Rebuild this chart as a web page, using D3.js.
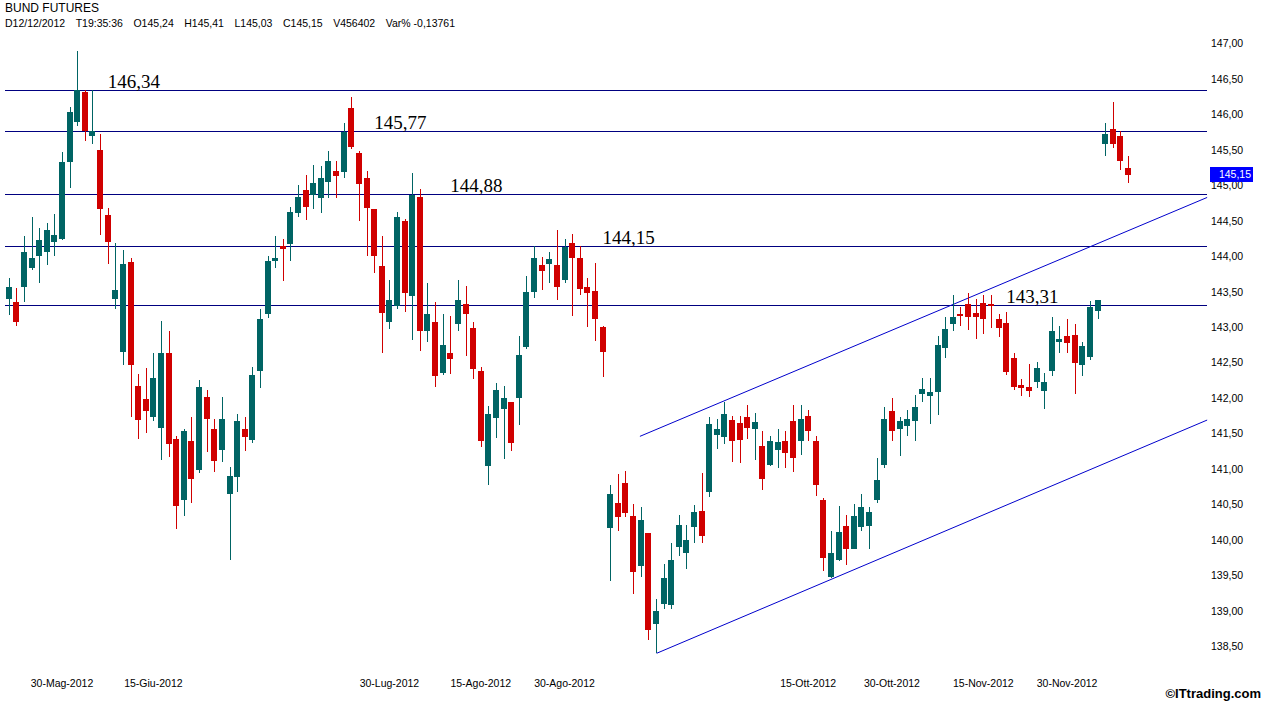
<!doctype html>
<html>
<head>
<meta charset="utf-8">
<style>
    body {
        margin: 0;
        background: #fff;
    }

    svg {
        display: block;
        font-family: 'Liberation Sans', Arial, sans-serif;
    }

    text.title {
        font-size: 12px;
        fill: #000;
    }

    text.info {
        font-size: 10.5px;
        fill: #000;
    }

    .axis text {
        font-size: 10.5px;
        fill: #000;
    }

    line.level {
        stroke: #000080;
        stroke-width: 1;
        shape-rendering: crispEdges;
    }

    line.trend {
        stroke: #0000cc;
        stroke-width: 1;
    }

    text.level-label {
        font-family: 'Liberation Serif', 'Times New Roman', serif;
        font-size: 19px;
        fill: #000;
    }

    .up {
        fill: #006464;
    }

    .down {
        fill: #d00000;
    }

    text.copy {
        font-size: 13px;
        font-weight: bold;
        fill: #000;
    }
</style>
<script src="https://d3js.org/d3.v7.min.js"></script>
</head>
<body>
<svg width="1263" height="701"></svg>
<script>
    // trading sessions, 21 May 2012 -> 12 Dec 2012
    const dates = [
        "2012-05-21","2012-05-22","2012-05-23","2012-05-24","2012-05-25","2012-05-28","2012-05-29","2012-05-30","2012-05-31",
        "2012-06-01","2012-06-04","2012-06-05","2012-06-06","2012-06-07","2012-06-08","2012-06-11","2012-06-12","2012-06-13","2012-06-14","2012-06-15",
        "2012-06-18","2012-06-19","2012-06-20","2012-06-21","2012-06-22","2012-06-25","2012-06-26","2012-06-27","2012-06-28","2012-06-29",
        "2012-07-02","2012-07-03","2012-07-04","2012-07-05","2012-07-06","2012-07-09","2012-07-10","2012-07-11","2012-07-12","2012-07-13",
        "2012-07-16","2012-07-17","2012-07-18","2012-07-19","2012-07-20","2012-07-23","2012-07-24","2012-07-25","2012-07-26","2012-07-27","2012-07-30","2012-07-31",
        "2012-08-01","2012-08-02","2012-08-03","2012-08-06","2012-08-07","2012-08-08","2012-08-09","2012-08-10","2012-08-13","2012-08-14","2012-08-15",
        "2012-08-16","2012-08-17","2012-08-20","2012-08-21","2012-08-22","2012-08-23","2012-08-24","2012-08-27","2012-08-28","2012-08-29","2012-08-30","2012-08-31",
        "2012-09-03","2012-09-04","2012-09-05","2012-09-06","2012-09-07","2012-09-10","2012-09-11","2012-09-12","2012-09-13","2012-09-14",
        "2012-09-17","2012-09-18","2012-09-19","2012-09-20","2012-09-21","2012-09-24","2012-09-25","2012-09-26","2012-09-27","2012-09-28",
        "2012-10-01","2012-10-02","2012-10-03","2012-10-04","2012-10-05","2012-10-08","2012-10-09","2012-10-10","2012-10-11","2012-10-12",
        "2012-10-15","2012-10-16","2012-10-17","2012-10-18","2012-10-19","2012-10-22","2012-10-23","2012-10-24","2012-10-25","2012-10-26","2012-10-29","2012-10-30","2012-10-31",
        "2012-11-01","2012-11-02","2012-11-05","2012-11-06","2012-11-07","2012-11-08","2012-11-09","2012-11-12","2012-11-13","2012-11-14","2012-11-15",
        "2012-11-16","2012-11-19","2012-11-20","2012-11-21","2012-11-22","2012-11-23","2012-11-26","2012-11-27","2012-11-28","2012-11-29","2012-11-30",
        "2012-12-03","2012-12-04","2012-12-05","2012-12-06","2012-12-07","2012-12-10","2012-12-11","2012-12-12"
    ];

    const open = [
        143.40,143.36,143.56,143.83,144.01,144.06,144.20,144.25,145.33,145.89,146.32,145.69,145.50,144.58,143.40,142.65,143.92,142.17,141.99,141.74,
        141.58,142.64,141.42,140.56,141.39,140.99,142.01,141.56,141.27,140.64,140.89,141.56,141.41,142.38,143.18,143.93,144.14,144.17,144.61,144.94,
        144.87,144.82,145.05,145.21,145.19,146.09,145.45,145.11,144.66,143.86,143.07,143.30,144.50,143.44,144.84,142.94,143.08,142.35,142.64,143.04,
        143.32,142.99,142.38,141.04,141.72,141.84,141.95,142.00,142.72,143.49,143.88,143.89,143.87,143.67,144.19,143.98,143.57,143.51,143.00,140.17,
        140.52,140.80,140.33,139.63,140.09,138.81,139.09,139.08,139.90,139.82,140.18,140.41,140.68,141.48,141.45,141.69,141.65,141.73,141.56,141.33,
        141.06,141.27,141.40,141.68,141.40,141.75,141.39,140.56,139.48,139.72,140.20,139.87,140.18,140.19,140.56,141.05,141.82,141.56,141.61,141.67,
        142.06,142.03,142.08,142.70,143.04,143.19,143.32,143.20,143.34,143.32,143.11,143.06,142.57,142.18,142.16,142.22,142.10,142.38,142.79,142.87,
        142.89,142.47,142.58,143.23,145.58,145.80,145.69,145.24
    ];
    const high = [
        143.69,143.55,144.29,144.56,144.40,144.47,144.59,145.47,146.10,146.89,146.34,146.34,145.73,144.68,144.19,144.09,143.97,142.34,142.42,142.63,
        143.09,142.95,141.46,141.56,141.74,142.26,142.11,141.71,142.01,141.03,141.78,141.73,142.44,143.25,144.01,144.28,144.24,144.70,145.01,145.15,
        145.29,145.27,145.49,145.34,145.88,146.25,145.49,145.20,144.66,144.28,143.66,144.62,144.52,145.17,144.95,143.63,143.35,143.18,143.16,143.66,
        143.58,143.08,142.44,141.89,142.21,142.17,141.95,142.87,143.72,144.14,143.99,144.06,144.37,144.25,144.31,144.15,143.69,143.90,143.02,140.77,
        140.93,140.97,140.50,140.46,140.09,139.16,139.66,139.95,140.35,140.21,140.49,140.95,141.74,141.71,141.95,141.75,141.75,141.90,141.79,141.53,
        141.46,141.56,141.53,141.90,141.90,141.83,141.47,140.59,140.13,140.48,140.35,140.50,140.65,140.46,141.15,141.87,142.00,141.73,141.83,142.04,
        142.28,142.29,142.87,143.15,143.46,143.29,143.48,143.40,143.45,143.45,143.18,143.21,142.63,142.27,142.48,142.51,142.35,143.15,143.01,143.11,
        143.04,142.79,143.37,143.39,145.88,146.17,145.77,145.41
    ];
    const low = [
        143.17,143.02,143.35,143.81,143.63,143.88,144.01,144.23,144.97,145.84,145.63,145.59,144.30,143.89,143.25,142.47,141.74,141.42,141.51,141.68,
        141.13,141.17,140.16,140.34,140.52,140.94,141.24,140.96,141.10,139.71,140.67,141.25,141.37,142.14,143.13,143.84,143.65,143.93,144.55,144.51,
        144.66,144.61,144.82,144.82,145.10,145.51,144.50,144.00,143.76,142.63,142.98,143.25,143.21,142.82,142.67,142.79,142.16,142.33,142.34,142.94,
        142.60,142.27,141.31,140.77,141.44,141.14,141.26,141.62,142.69,143.41,143.53,143.62,143.39,143.62,143.16,143.45,143.00,142.81,142.30,139.42,
        140.12,140.32,139.24,139.48,138.59,138.41,139.02,139.02,139.77,139.59,139.95,139.95,140.61,141.28,141.35,141.10,141.09,141.42,141.12,140.70,
        141.04,141.02,141.01,140.96,141.20,141.39,140.62,139.56,139.46,139.70,139.65,139.87,140.13,139.87,140.52,141.02,141.39,141.18,141.46,141.39,
        141.94,141.64,141.76,142.56,142.94,143.02,142.96,142.83,142.90,142.99,142.86,142.32,142.12,142.03,142.01,142.14,141.84,142.31,142.63,142.63,
        142.06,142.31,142.54,143.12,145.41,145.53,145.22,145.03
    ];
    const close = [
        143.57,143.08,144.06,143.97,144.23,144.37,144.30,145.33,146.04,146.34,145.77,145.77,144.66,144.20,143.52,143.89,142.47,141.69,141.82,142.29,
        142.64,141.35,140.48,141.53,140.86,142.16,141.70,141.11,141.70,140.90,141.68,141.45,142.33,143.11,143.94,143.98,144.10,144.63,144.83,144.70,
        145.04,145.11,145.34,145.13,145.75,145.54,145.02,144.68,144.00,143.20,143.39,144.56,143.48,144.87,142.94,143.19,142.31,142.75,142.55,143.39,
        143.18,142.41,141.40,141.78,142.11,142.00,141.37,142.61,143.49,143.98,143.79,143.96,143.57,144.13,143.98,143.54,143.48,143.11,142.65,140.65,
        140.32,140.38,139.54,140.28,138.73,139.00,139.46,139.71,140.21,140.00,140.40,140.05,141.64,141.56,141.78,141.39,141.41,141.58,141.66,140.86,
        141.40,141.38,141.22,141.15,141.70,141.54,140.77,139.75,139.81,140.11,139.87,140.34,140.46,140.39,140.85,141.70,141.53,141.67,141.70,141.87,
        142.13,142.08,142.75,142.97,143.14,143.16,143.14,143.14,143.11,143.31,142.99,142.37,142.16,142.14,142.10,142.43,142.23,142.95,142.83,142.78,
        142.50,142.73,143.29,143.38,145.73,145.58,145.34,145.15
    ];

    const volume = 456402;
    const varPct = -0.13761;
    const lastTime = "19:35:36";

    const yTicks = [138.5, 139, 139.5, 140, 140.5, 141, 141.5, 142, 142.5, 143, 143.5, 144, 144.5, 145, 145.5, 146, 146.5, 147];
    const xTickDates = ["2012-05-30", "2012-06-15", "2012-07-30", "2012-08-15", "2012-08-30", "2012-10-15", "2012-10-30", "2012-11-15", "2012-11-30"];
    const monthNames = ["Gen", "Feb", "Mar", "Apr", "Mag", "Giu", "Lug", "Ago", "Set", "Ott", "Nov", "Dic"];

    // support / resistance levels and the session where their label sits
    const levels = [146.34, 145.77, 144.88, 144.15, 143.31];
    const levelLabelDates = ["2012-06-07", "2012-07-26", "2012-08-09", "2012-09-06", "2012-11-20"];

    // channel lines: [session index, price] at both ends
    const channelUpper = [[82.9, 141.46], [157.4, 144.83]];
    const channelLower = [[85.1, 138.40], [157.4, 141.69]];

    const data = dates.map((d, i) => ({
        date: d, open: open[i], high: high[i], low: low[i], close: close[i]
    }));

    const svg = d3.select('svg');

    const nSlots = dates.length;
    const step = 7.614;
    const left = 4.9;

    const xScale = d3.scaleBand()
        .domain(dates)
        .range([left, left + step * nSlots])
        .paddingInner(0.2)
        .paddingOuter(0.1);

    // fractional session index -> x, used for lines running past the last bar
    const xIdx = (i) => xScale.range()[0] + xScale.step() * (i + 0.5);

    const yScale = d3.scaleLinear()
        .domain([138.5, 147])
        .range([646.2, 43.6]);

    const comma = (v) => d3.format('.2f')(v).replace('.', ',');

    // header
    svg.append('text')
        .attr('class', 'title')
        .attr('x', 5)
        .attr('y', 11.5)
        .text('BUND FUTURES');

    const last = data[data.length - 1];
    const dp = last.date.split('-');
    const info = [
        `D${dp[2]}/${dp[1]}/${dp[0]}`,
        `T${lastTime}`,
        `O${comma(last.open)}`,
        `H${comma(last.high)}`,
        `L${comma(last.low)}`,
        `C${comma(last.close)}`,
        `V${volume}`,
        `Var% ${varPct.toFixed(5).replace('.', ',')}`
    ];
    const infoText = svg.selectAll('text.info')
        .data(info)
        .enter()
        .append('text')
        .attr('class', 'info')
        .attr('y', 27)
        .text((d) => d);

    // spread the header fields evenly between x=5 and x=455
    const widths = [];
    infoText.each(function () { widths.push(this.getComputedTextLength()); });
    const gap = (450 - d3.sum(widths)) / (widths.length - 1);
    let pos = 5;
    infoText.attr('x', (d, i) => {
        const at = pos;
        pos += widths[i] + gap;
        return at;
    });

    const chart = svg.append('g');

    // horizontal levels
    chart.selectAll('line.level')
        .data(levels)
        .enter()
        .append('line')
        .attr('class', 'level')
        .attr('x1', xIdx(-0.5))
        .attr('x2', xIdx(157.4))
        .attr('y1', (v) => Math.round(yScale(v)) + 0.5)
        .attr('y2', (v) => Math.round(yScale(v)) + 0.5);

    chart.selectAll('text.level-label')
        .data(levels)
        .enter()
        .append('text')
        .attr('class', 'level-label')
        .attr('x', (v, i) => xScale(levelLabelDates[i]) + xScale.bandwidth() / 2)
        .attr('y', (v) => yScale(v) - 2)
        .text((v) => comma(v));

    // channel
    chart.selectAll('line.trend')
        .data([channelUpper, channelLower])
        .enter()
        .append('line')
        .attr('class', 'trend')
        .attr('x1', (d) => xIdx(d[0][0]))
        .attr('y1', (d) => yScale(d[0][1]))
        .attr('x2', (d) => xIdx(d[1][0]))
        .attr('y2', (d) => yScale(d[1][1]));

    // candles
    const cx = (d) => Math.round(xScale(d.date) + xScale.bandwidth() / 2);

    const candles = chart.selectAll('g.candle')
        .data(data)
        .enter()
        .append('g')
        .attr('class', (d) => d.close >= d.open ? 'candle up' : 'candle down')
        .attr('shape-rendering', 'crispEdges');

    candles.append('rect')
        .attr('x', (d) => cx(d))
        .attr('width', 1)
        .attr('y', (d) => Math.round(yScale(d.high)))
        .attr('height', (d) => Math.max(1, Math.round(yScale(d.low)) - Math.round(yScale(d.high))));

    candles.append('rect')
        .attr('x', (d) => cx(d) - 3)
        .attr('width', 6)
        .attr('y', (d) => Math.round(yScale(Math.max(d.open, d.close))))
        .attr('height', (d) => Math.max(2, Math.round(yScale(Math.min(d.open, d.close))) - Math.round(yScale(Math.max(d.open, d.close)))));

    // price axis
    const yAxis = svg.append('g')
        .attr('class', 'axis')
        .attr('transform', 'translate(1208, 0)')
        .call(d3.axisRight(yScale)
            .tickValues(yTicks)
            .tickSize(0)
            .tickPadding(3)
            .tickFormat(comma));
    yAxis.select('.domain').remove();
    yAxis.selectAll('text').attr('fill', '#000');

    // date axis
    const fmtDate = (s) => {
        const p = s.split('-');
        return `${p[2]}-${monthNames[+p[1] - 1]}-${p[0]}`;
    };
    const xAxis = svg.append('g')
        .attr('class', 'axis')
        .attr('transform', 'translate(0, 677)')
        .call(d3.axisBottom(xScale)
            .tickValues(xTickDates)
            .tickSize(0)
            .tickPadding(3)
            .tickFormat(fmtDate));
    xAxis.select('.domain').remove();
    xAxis.selectAll('text').attr('fill', '#000');

    // last price marker
    const yLast = yScale(last.close);
    svg.append('rect')
        .attr('x', 1210)
        .attr('y', Math.round(yLast - 7.5))
        .attr('width', 43)
        .attr('height', 15)
        .attr('fill', '#0000ff');
    svg.append('text')
        .attr('x', 1251)
        .attr('y', yLast)
        .attr('dy', '0.35em')
        .attr('text-anchor', 'end')
        .style('font-size', '10.5px')
        .style('fill', '#fff')
        .text(comma(last.close));

    svg.append('text')
        .attr('class', 'copy')
        .attr('x', 1261)
        .attr('y', 698)
        .attr('text-anchor', 'end')
        .text('\u00a9ITtrading.com');
</script>
</body>
</html>
